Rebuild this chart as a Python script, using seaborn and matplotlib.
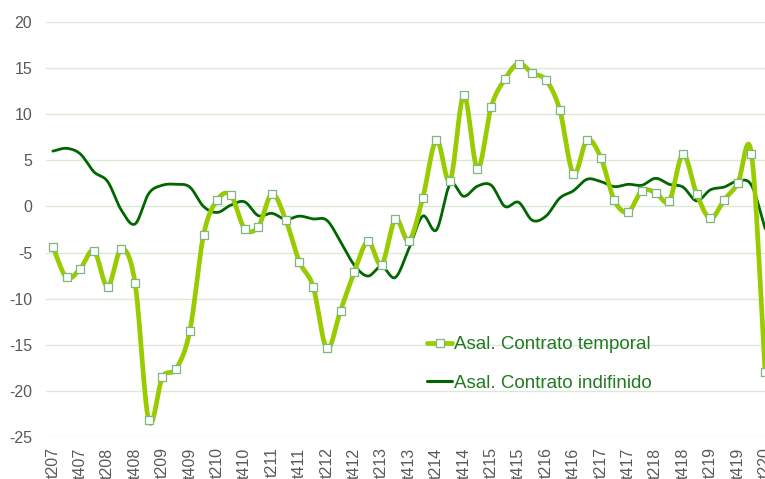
import numpy as np
import pandas as pd
import matplotlib
matplotlib.use("Agg")
import matplotlib.pyplot as plt
from matplotlib.lines import Line2D
import seaborn as sns

# ---- data ----
quarters = ["t207", "t307", "t407", "t108", "t208", "t308", "t408", "t109", "t209", "t309",
            "t409", "t110", "t210", "t310", "t410", "t111", "t211", "t311", "t411", "t112",
            "t212", "t312", "t412", "t113", "t213", "t313", "t413", "t114", "t214", "t314",
            "t414", "t115", "t215", "t315", "t415", "t116", "t216", "t316", "t416", "t117",
            "t217", "t317", "t417", "t118", "t218", "t318", "t418", "t119", "t219", "t319",
            "t419", "t120", "t220"]
temporal = [-4.4, -7.7, -6.75, -4.8, -8.7, -4.6, -8.3, -23.2, -18.5, -17.6,
            -13.5, -3.1, 0.7, 1.2, -2.4, -2.2, 1.35, -1.45, -6.0, -8.7,
            -15.4, -11.3, -7.15, -3.8, -6.3, -1.4, -3.7, 0.9, 7.2, 2.8,
            12.05, 4.1, 10.8, 13.8, 15.5, 14.45, 13.7, 10.5, 3.55, 7.2,
            5.3, 0.65, -0.6, 1.7, 1.5, 0.6, 5.65, 1.35, -1.3, 0.7,
            2.5, 5.7, -17.9]
indefinido = [6.0, 6.3, 5.7, 3.75, 2.7, -0.4, -1.9, 1.4, 2.3, 2.4,
              2.1, 0.0, -0.65, 0.15, 0.5, -1.0, -0.75, -1.4, -1.05, -1.35,
              -1.5, -3.8, -6.35, -7.55, -6.5, -7.7, -4.55, -1.05, -2.55, 2.4,
              1.1, 2.2, 2.3, 0.0, 0.45, -1.5, -1.05, 0.9, 1.7, 2.95,
              2.7, 2.15, 2.4, 2.3, 3.05, 2.4, 2.1, 0.6, 1.8, 2.1,
              2.75, 2.3, -2.4]
tick_labels = quarters[::2]
yticks = [20, 15, 10, 5, 0, -5, -10, -15, -20, -25]
label_temp = "Asal. Contrato temporal"
label_ind = "Asal. Contrato indifinido"

C_TEMP = "#99cc00"
C_IND = "#006600"
C_MARK_EDGE = "#7fb77f"
C_TEXT = "#595959"
C_GRID = "#d9ead3"
C_LEG = "#217a21"


def smooth(xs, ys, n=24):
    """Catmull-Rom rendering of a line (like a spreadsheet 'smoothed line')."""
    xs = np.asarray(xs, float)
    ys = np.asarray(ys, float)
    px = np.concatenate([[2 * xs[0] - xs[1]], xs, [2 * xs[-1] - xs[-2]]])
    py = np.concatenate([[2 * ys[0] - ys[1]], ys, [2 * ys[-1] - ys[-2]]])
    outx, outy = [], []
    t = np.linspace(0, 1, n, endpoint=False)
    for i in range(1, len(px) - 2):
        p0, p1, p2, p3 = py[i - 1], py[i], py[i + 1], py[i + 2]
        q0, q1, q2, q3 = px[i - 1], px[i], px[i + 1], px[i + 2]
        f = lambda a0, a1, a2, a3: 0.5 * ((2 * a1) + (-a0 + a2) * t +
                                          (2 * a0 - 5 * a1 + 4 * a2 - a3) * t ** 2 +
                                          (-a0 + 3 * a1 - 3 * a2 + a3) * t ** 3)
        outx.append(f(q0, q1, q2, q3))
        outy.append(f(p0, p1, p2, p3))
    outx.append([xs[-1]])
    outy.append([ys[-1]])
    return np.concatenate(outx), np.concatenate(outy)


pos = np.arange(len(quarters))
sx_t, sy_t = smooth(pos, temporal)
sx_i, sy_i = smooth(pos, indefinido)
df_t = pd.DataFrame({"x": sx_t, "y": sy_t})
df_i = pd.DataFrame({"x": sx_i, "y": sy_i})
df_pts = pd.DataFrame({"x": pos, "y": temporal})

sns.set_style("white")
plt.rcParams["font.family"] = ["Liberation Sans", "DejaVu Sans"]

fig = plt.figure(figsize=(7.65, 4.79), dpi=100)
W, H = 765.0, 479.0
left_px, right_px = 46.0, 772.0
top_px, bot_px = 22.0, 437.0
ax = fig.add_axes([left_px / W, 1 - bot_px / H, (right_px - left_px) / W, (bot_px - top_px) / H])

sns.lineplot(data=df_i, x="x", y="y", ax=ax, color=C_IND, lw=2.0, sort=False, estimator=None)
sns.lineplot(data=df_t, x="x", y="y", ax=ax, color=C_TEMP, lw=3.4, sort=False, estimator=None)
sns.scatterplot(data=df_pts, x="x", y="y", ax=ax, marker="s", s=26, color="white",
                edgecolor=C_MARK_EDGE, linewidth=0.9, zorder=5)

ax.set_xlim(-0.5, len(quarters) - 0.5)
ax.set_ylim(-25, 20)
ax.set_yticks(yticks)
ax.set_yticklabels([str(v) for v in yticks], color=C_TEXT, fontsize=11.5)
ax.set_xticks(pos[::2])
ax.set_xticklabels(tick_labels, rotation=90, color=C_TEXT, fontsize=11.5, va="top")
ax.tick_params(axis="both", length=0)
ax.tick_params(axis="y", pad=10)
ax.tick_params(axis="x", pad=7.5)
ax.grid(axis="y", color=C_GRID, lw=1.0)
ax.grid(axis="x", visible=False)
ax.set_axisbelow(True)
for s in ax.spines.values():
    s.set_visible(False)
ax.set_xlabel("")
ax.set_ylabel("")

handles = [
    Line2D([], [], color=C_TEMP, lw=3.4, marker="s", markersize=5.5,
           markerfacecolor="white", markeredgecolor=C_MARK_EDGE, markeredgewidth=0.9),
    Line2D([], [], color=C_IND, lw=2.2),
]
leg = ax.legend(handles, [label_temp, label_ind], loc="upper left",
                bbox_to_anchor=(427 / W, 1 - 336 / H), bbox_transform=fig.transFigure,
                frameon=False, fontsize=13.5, handlelength=1.35, handletextpad=0.08,
                labelspacing=1.15, borderpad=0, borderaxespad=0)
for t in leg.get_texts():
    t.set_color(C_LEG)

fig.savefig("out.png", dpi=100)
